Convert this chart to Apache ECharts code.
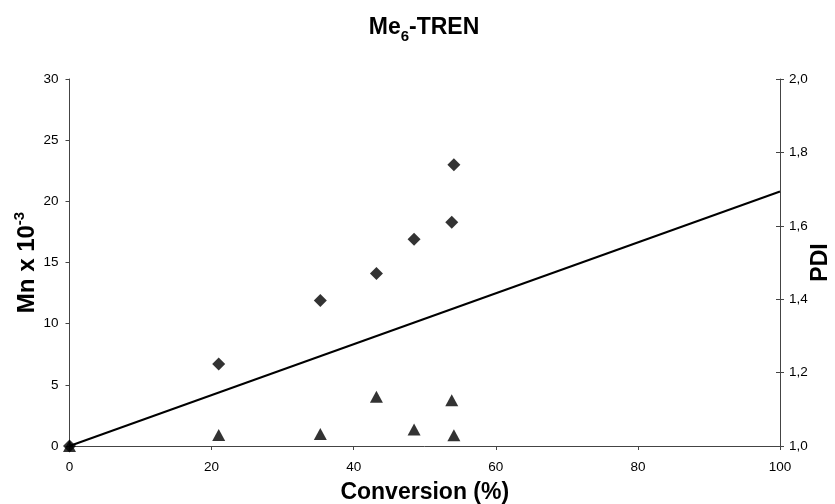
<!DOCTYPE html>
<html>
<head>
<meta charset="utf-8">
<script src="https://cdn.jsdelivr.net/npm/echarts@6/dist/echarts.min.js"></script>
<style>
  html, body { margin: 0; padding: 0; background: #fff; overflow: hidden; }
  #chart { width: 835px; height: 504px; }
</style>
</head>
<body>
<div id="chart"></div>
<script>
// Monomer conversion (%) for each sample
const conversion = [0, 21.0, 35.3, 43.2, 48.5, 53.8, 54.1];
// Measured number-average molar mass (x 10^-3)
const mnValues = [0, 6.7, 11.9, 14.1, 16.9, 18.3, 23.0];
// Polydispersity index for each sample
const pdiValues = [1.0, 1.030, 1.033, 1.134, 1.045, 1.125, 1.029];
// Theoretical Mn line endpoints
const theoryConv = [0, 100];
const theoryMn = [0, 20.8];

const FONT = '"Liberation Sans", Arial, sans-serif';
const AXIS_COLOR = '#444';
const TICK_FONT = 13.5;
const NAME_FONT = 23;

const GRID_LEFT = 69.5;
const GRID_RIGHT = 55;

const chart = echarts.init(document.getElementById('chart'));

const zip = (xs, ys) => xs.map((x, i) => [x, ys[i]]);
const commaFmt = v => v.toFixed(1).replace('.', ',');

chart.setOption({
  animation: false,
  backgroundColor: '#fff',
  textStyle: { fontFamily: FONT, color: '#000' },
  title: {
    text: '{b|Me}{s|6}{b|-TREN}',
    left: 419,
    textAlign: 'center',
    top: 7,
    textStyle: {
      rich: {
        b: { fontFamily: FONT, fontSize: 23, fontWeight: 'bold', color: '#000', lineHeight: 32, verticalAlign: 'middle' },
        s: { fontFamily: FONT, fontSize: 15, fontWeight: 'bold', color: '#000', lineHeight: 32, verticalAlign: 'bottom' }
      }
    }
  },
  grid: { left: GRID_LEFT, right: GRID_RIGHT, top: 79, bottom: 58, containLabel: false, outerBoundsMode: 'none' },
  xAxis: {
    type: 'value',
    min: 0, max: 100, interval: 20,
    name: 'Conversion (%)',
    nameLocation: 'middle',
    nameGap: 35,
    nameMoveOverlap: false,
    nameTextStyle: { fontFamily: FONT, fontSize: NAME_FONT, fontWeight: 'bold', color: '#000' },
    axisLine: { show: true, lineStyle: { color: AXIS_COLOR, width: 1 } },
    axisTick: { show: true, inside: false, length: 4, lineStyle: { color: AXIS_COLOR } },
    axisLabel: { fontFamily: FONT, fontSize: TICK_FONT, color: '#000', margin: 14 },
    splitLine: { show: false }
  },
  yAxis: [
    {
      type: 'value',
      position: 'left',
      min: 0, max: 30, interval: 5,
      name: '{b|Mn x 10}{s|-3}',
      nameLocation: 'middle',
      nameGap: 27,
      nameRotate: 90,
      nameMoveOverlap: false,
      nameTextStyle: {
        rich: {
          b: { fontFamily: FONT, fontSize: 24, fontWeight: 'bold', color: '#000', lineHeight: 30, verticalAlign: 'middle' },
          s: { fontFamily: FONT, fontSize: 15, fontWeight: 'bold', color: '#000', lineHeight: 30, verticalAlign: 'top' }
        }
      },
      axisLine: { show: true, lineStyle: { color: AXIS_COLOR, width: 1 } },
      axisTick: { show: true, inside: false, length: 4, lineStyle: { color: AXIS_COLOR } },
      axisLabel: { fontFamily: FONT, fontSize: TICK_FONT, color: '#000', margin: 11 },
      splitLine: { show: false }
    },
    {
      type: 'value',
      position: 'right',
      min: 1.0, max: 2.0, interval: 0.2,
      name: 'PDI',
      nameLocation: 'middle',
      nameGap: 29,
      nameRotate: 90,
      nameMoveOverlap: false,
      nameTextStyle: { fontFamily: FONT, fontSize: NAME_FONT, fontWeight: 'bold', color: '#000' },
      axisLine: { show: true, lineStyle: { color: AXIS_COLOR, width: 1 } },
      axisTick: { show: true, inside: false, length: 4, lineStyle: { color: AXIS_COLOR } },
      axisLabel: { fontFamily: FONT, fontSize: TICK_FONT, color: '#000', margin: 9, formatter: commaFmt },
      splitLine: { show: false }
    },
    {
      // inner half of the cross ticks on the PDI axis
      type: 'value',
      position: 'right',
      min: 1.0, max: 2.0, interval: 0.2,
      axisLine: { show: false },
      axisTick: { show: true, inside: true, length: 4, lineStyle: { color: AXIS_COLOR } },
      axisLabel: { show: false },
      splitLine: { show: false }
    }
  ],
  series: [
    {
      name: 'Theoretical Mn',
      type: 'line',
      yAxisIndex: 0,
      data: zip(theoryConv, theoryMn),
      symbol: 'none',
      lineStyle: { color: '#000', width: 2 },
      z: 2
    },
    {
      name: 'Mn',
      type: 'scatter',
      yAxisIndex: 0,
      data: zip(conversion, mnValues),
      symbol: 'diamond',
      symbolSize: [13, 13],
      itemStyle: { color: '#000' },
      z: 3
    },
    {
      name: 'PDI',
      type: 'scatter',
      yAxisIndex: 1,
      data: zip(conversion, pdiValues),
      symbol: 'triangle',
      symbolSize: [13, 12],
      itemStyle: { color: '#000' },
      z: 3
    }
  ]
});
</script>
</body>
</html>
